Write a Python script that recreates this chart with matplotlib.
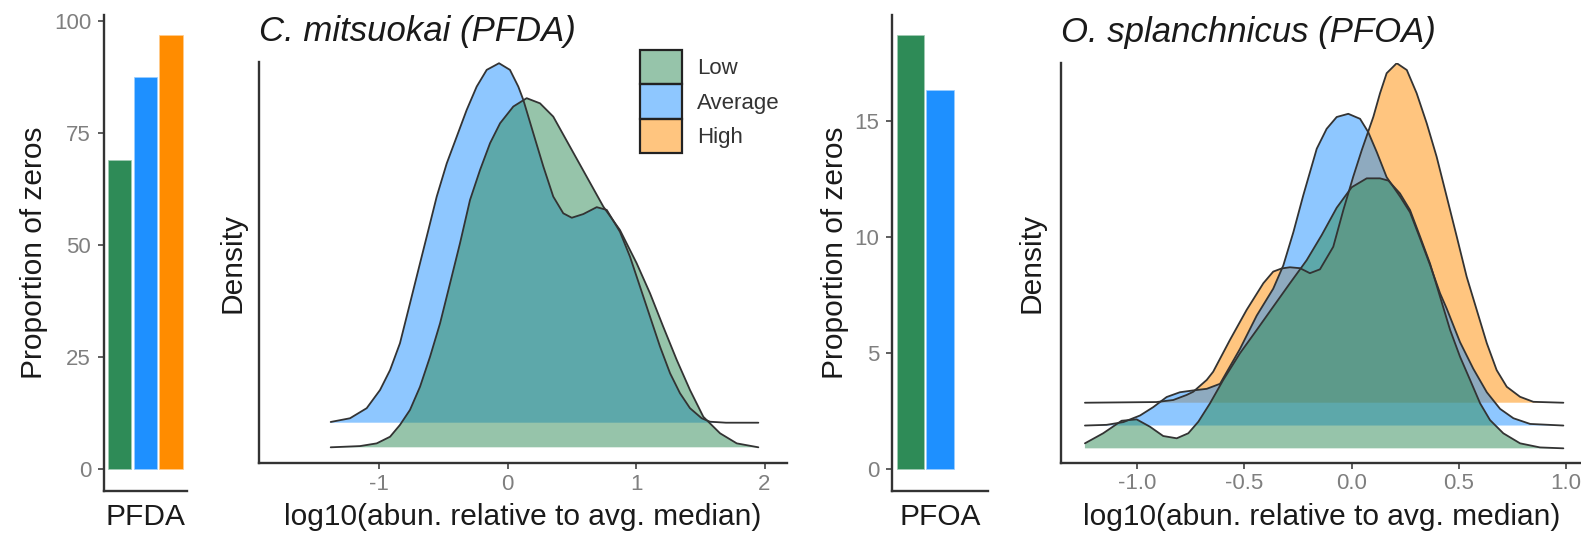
import matplotlib
matplotlib.use("Agg")
import matplotlib.pyplot as plt
from matplotlib.colors import to_rgba
from matplotlib.patches import Patch
import numpy as np

plt.rcParams["font.family"] = ["Liberation Sans", "DejaVu Sans"]
plt.rcParams["axes.unicode_minus"] = False

# ── data ─────────────────────────────────────────────────────────────────────
GROUPS = ["Low", "Average", "High"]
COLORS = {"Low": "#2e8b57", "Average": "#1e90ff", "High": "#ff8c00"}
RIDGE_BASE = {"Low": 0, "Average": 1, "High": 2}

# proportion of zeros per exposure group
PFDA_ZEROS = [68.7, 87.2, 96.7]
PFOA_ZEROS = [18.7, 16.3, 0.0]

# ridge heights above each group's own baseline
CM_LOW_X = [-1.376, -1.148, -1.018, -0.914, -0.837, -0.759, -0.681, -0.603, -0.525,
            -0.447, -0.370, -0.292, -0.214, -0.136, -0.058, 0.045, 0.149, 0.253,
            0.356, 0.486, 0.616, 0.746, 0.875, 1.005, 1.109, 1.212, 1.317, 1.420,
            1.524, 1.654, 1.784, 1.952]
CM_LOW_H = [0.0, 0.05, 0.16, 0.43, 0.91, 1.52, 2.46, 3.68, 5.04,
            6.67, 8.29, 10.05, 11.27, 12.36, 13.17, 13.85, 14.19, 13.98,
            13.44, 12.22, 11.0, 9.78, 8.83, 7.48, 6.26, 4.90, 3.55, 2.33,
            1.24, 0.57, 0.16, 0.0]

CM_AVG_X = [-1.376, -1.226, -1.096, -0.992, -0.914, -0.837, -0.759, -0.681, -0.616,
            -0.551, -0.473, -0.395, -0.318, -0.240, -0.162, -0.066, 0.019, 0.084,
            0.123, 0.201, 0.279, 0.356, 0.434, 0.500, 0.590, 0.694, 0.772, 0.875,
            0.953, 1.031, 1.109, 1.187, 1.265, 1.342, 1.420, 1.511, 1.576, 1.700,
            1.952]
CM_AVG_H = [0.03, 0.18, 0.59, 1.33, 2.14, 3.23, 4.85, 6.48, 7.83,
            9.19, 10.54, 11.63, 12.71, 13.66, 14.34, 14.61, 14.34, 13.66,
            13.12, 11.76, 10.41, 9.19, 8.51, 8.33, 8.48, 8.76, 8.65, 7.76,
            6.75, 5.53, 4.31, 3.09, 2.01, 1.20, 0.59, 0.18, 0.04, 0.0,
            0.0]

OS_LOW_X = [-1.244, -1.159, -1.073, -1.003, -0.941, -0.879, -0.816, -0.762, -0.715,
            -0.661, -0.599, -0.521, -0.443, -0.366, -0.288, -0.210, -0.140, -0.070,
            0.0, 0.070, 0.132, 0.171, 0.225, 0.272, 0.319, 0.365, 0.412, 0.459,
            0.505, 0.552, 0.599, 0.645, 0.707, 0.785, 0.878, 0.987]
OS_LOW_H = [0.22, 0.66, 1.21, 1.27, 0.95, 0.54, 0.44, 0.66, 1.17,
            1.97, 3.0, 4.17, 5.19, 6.21, 7.24, 8.25, 9.35, 10.55,
            11.45, 11.84, 11.84, 11.74, 11.18, 10.45, 9.28, 8.11, 6.65, 5.19,
            4.02, 3.0, 1.97, 1.24, 0.66, 0.22, 0.04, 0.0]

OS_AVG_X = [-1.244, -1.143, -1.065, -0.987, -0.925, -0.863, -0.801, -0.739, -0.676,
            -0.614, -0.521, -0.443, -0.366, -0.319, -0.272, -0.226, -0.163, -0.117,
            -0.070, -0.016, 0.039, 0.077, 0.117, 0.163, 0.225, 0.272, 0.319, 0.365,
            0.412, 0.443, 0.505, 0.567, 0.630, 0.692, 0.754, 0.832, 0.987]
OS_AVG_H = [0.0, 0.03, 0.15, 0.44, 0.81, 1.25, 1.46, 1.54, 1.61,
            1.83, 3.36, 4.82, 6.0, 7.02, 8.48, 10.09, 12.14, 13.01,
            13.53, 13.67, 13.45, 12.87, 11.99, 10.89, 10.05, 9.35, 8.2, 7.05,
            5.8, 5.13, 3.66, 2.49, 1.46, 0.73, 0.32, 0.07, 0.0]

OS_HIGH_X = [-1.244, -0.910, -0.832, -0.770, -0.739, -0.676, -0.646, -0.568, -0.490,
             -0.412, -0.366, -0.326, -0.288, -0.241, -0.195, -0.148, -0.086, -0.039,
             0.007, 0.047, 0.101, 0.132, 0.163, 0.210, 0.257, 0.303, 0.350, 0.396,
             0.443, 0.490, 0.536, 0.583, 0.630, 0.676, 0.723, 0.785, 0.847, 0.987]
OS_HIGH_H = [0.0, 0.03, 0.12, 0.34, 0.48, 1.0, 1.36, 2.75, 4.07,
             5.24, 5.75, 5.89, 5.94, 5.90, 5.68, 5.85, 6.84, 8.45,
             9.91, 11.08, 12.54, 13.57, 14.45, 14.89, 14.59, 13.57, 12.25, 10.79,
             9.04, 7.28, 5.53, 4.07, 2.61, 1.43, 0.70, 0.26, 0.04, 0.0]

PFDA_RIDGES = {"Low": (CM_LOW_X, CM_LOW_H), "Average": (CM_AVG_X, CM_AVG_H)}
PFOA_RIDGES = {"Low": (OS_LOW_X, OS_LOW_H), "Average": (OS_AVG_X, OS_AVG_H),
               "High": (OS_HIGH_X, OS_HIGH_H)}

# ── layout (pixels from top-left of a 1581x535 canvas) ──────────────────────
W, H = 1581, 535
AX_COL = "#333333"
TICK_COL = "#7f7f7f"
TEXT_COL = "#1a1a1a"


def box(x0, y0, x1, y1):
    return [x0 / W, 1 - y1 / H, (x1 - x0) / W, (y1 - y0) / H]


def style_axes(ax):
    for side in ("top", "right"):
        ax.spines[side].set_visible(False)
    for side in ("left", "bottom"):
        ax.spines[side].set_color(AX_COL)
        ax.spines[side].set_linewidth(1.7)
    ax.tick_params(colors=AX_COL, labelcolor=TICK_COL, labelsize=16,
                   length=4.3, width=1.1)


def bar_panel(ax, values, label, ylim, yticks, ylab_x):
    style_axes(ax)
    pos = np.arange(len(values)) - 1
    for p, v, g in zip(pos, values, GROUPS):
        ax.bar(p, v, width=0.88, color=COLORS[g], linewidth=1.2,
               edgecolor=to_rgba(COLORS[g], 0.55) if v > 0 else "none")
    ax.set_xlim(-1.62, 1.6)
    ax.set_ylim(*ylim)
    ax.set_yticks(yticks)
    ax.tick_params(axis="y", pad=5)
    ax.set_xticks([0])
    ax.set_xticklabels([label], fontsize=21.5, color=TEXT_COL)
    ax.tick_params(axis="x", length=0, pad=9)
    ax.set_ylabel("Proportion of zeros", fontsize=21.5, color=TEXT_COL)
    ax.yaxis.label.set_va("center")
    ax.yaxis.set_label_coords(ylab_x, 0.5)


def ridge_panel(ax, ridges, title, xlim, ylim, xticks, fmt, ylab_x, xlab_y):
    style_axes(ax)
    # higher baselines first, so lower ridges sit on top
    for g in sorted(ridges, key=lambda k: -RIDGE_BASE[k]):
        x, h = ridges[g]
        base = RIDGE_BASE[g]
        top = base + np.asarray(h)
        ax.fill_between(x, base, top, facecolor=COLORS[g], alpha=0.5, linewidth=0)
        ax.plot(x, top, color="#333333", linewidth=1.3,
                solid_joinstyle="round", solid_capstyle="round")
    ax.set_xlim(*xlim)
    ax.set_ylim(*ylim)
    ax.set_xticks(xticks)
    ax.set_xticklabels([fmt.format(t) for t in xticks])
    ax.tick_params(axis="x", pad=3.4)
    ax.set_yticks([])
    ax.set_xlabel("log10(abun. relative to avg. median)", fontsize=21.5,
                  color=TEXT_COL)
    ax.xaxis.label.set_va("center")
    ax.xaxis.set_label_coords(0.5, xlab_y)
    ax.set_ylabel("Density", fontsize=21.5, color=TEXT_COL)
    ax.yaxis.label.set_va("center")
    ax.yaxis.set_label_coords(ylab_x, 0.5)
    ax.text(0.0, 1.075, title, transform=ax.transAxes, ha="left", va="center",
            fontsize=25, style="italic", color=TEXT_COL)


fig = plt.figure(figsize=(W / 100, H / 100), dpi=100)

ax1 = fig.add_axes(box(104, 15, 187.3, 490.7))
bar_panel(ax1, PFDA_ZEROS, "PFDA", (-4.77, 101.3), [0, 25, 50, 75, 100], -0.84)

ax2 = fig.add_axes(box(259, 62, 787, 463.3))
ridge_panel(ax2, PFDA_RIDGES, "C. mitsuokai (PFDA)", (-1.934, 2.175),
            (-0.65, 15.66), [-1, 0, 1, 2], "{:d}", -0.051, -0.134)

handles = [Patch(facecolor=to_rgba(COLORS[g], 0.5), edgecolor="#222222",
                 linewidth=1.6, label=g) for g in GROUPS]
ax2.legend(handles=handles, loc="upper left", frameon=False,
           bbox_to_anchor=(640 / W, 1 - 50 / H), bbox_transform=fig.transFigure,
           borderpad=0, borderaxespad=0, labelspacing=0, fontsize=16,
           handlelength=1.89, handleheight=2.0, handletextpad=0.66,
           labelcolor="#333333")

ax3 = fig.add_axes(box(892.3, 15, 988.3, 490.7))
bar_panel(ax3, PFOA_ZEROS, "PFOA", (-0.923, 19.59), [0, 5, 10, 15], -0.597)

ax4 = fig.add_axes(box(1060.7, 62.5, 1583.3, 462.7))
ridge_panel(ax4, PFOA_RIDGES, "O. splanchnicus (PFOA)", (-1.357, 1.08),
            (-0.63, 16.92), [-1.0, -0.5, 0.0, 0.5, 1.0], "{:.1f}", -0.055, -0.136)

fig.savefig("out.png", dpi=100, facecolor="white")
